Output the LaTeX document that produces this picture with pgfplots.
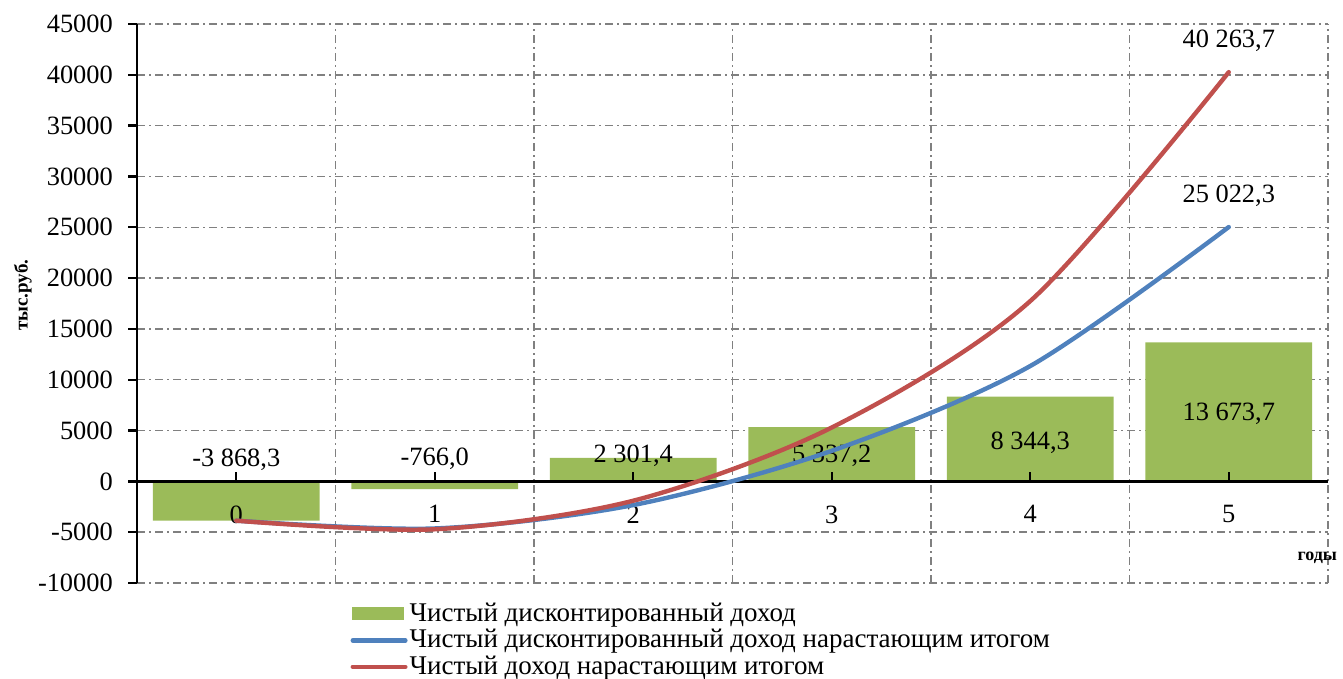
\documentclass[border=0pt]{standalone}
\usepackage{fontspec}
\setmainfont{Liberation Serif}
\usepackage{pgfplots}
\pgfplotsset{compat=1.18}
\definecolor{barg}{HTML}{9BBB59}
\definecolor{lblue}{HTML}{4F81BD}
\definecolor{lred}{HTML}{C0504D}
\pgfplotsset{
  layers/mylayers/.define layer set={
    axis background,axis grid,main,axis ticks,axis lines,axis tick labels,
    axis descriptions,axis foreground
  }{
    grid style={/pgfplots/on layer=axis grid},
    tick style={/pgfplots/on layer=axis ticks},
    axis line style={/pgfplots/on layer=axis lines},
    label style={/pgfplots/on layer=axis descriptions},
    legend style={/pgfplots/on layer=axis descriptions},
    title style={/pgfplots/on layer=axis descriptions},
    colorbar style={/pgfplots/on layer=axis descriptions},
    ticklabel style={/pgfplots/on layer=axis tick labels},
    axis background@ style={/pgfplots/on layer=axis background},
    3d box foreground style={/pgfplots/on layer=axis foreground},
  },
}
\begin{document}
\fontsize{13.2}{15}\selectfont
\begin{tikzpicture}
\begin{axis}[
  set layers=mylayers,
  clip=false,
  scale only axis, width=595.5pt, height=279.5pt,
  xmin=-0.5, xmax=5.5, ymin=-10000, ymax=45000,
  axis y line=left, axis x line=middle,
  axis line style={-, line width=1.4pt, black},
  hide obscured x ticks=false, hide obscured y ticks=false,
  xtick={0,...,5}, ytick={-10000,-5000,...,45000},
  minor xtick={0.5,1.5,...,5.5},
  minor tick length=0pt,
  xminorgrids=true, ymajorgrids=true,
  major grid style={gray, line width=0.7pt, dash pattern=on 4pt off 2pt on 1pt off 2pt},
  minor grid style={gray, line width=0.7pt, dash pattern=on 4pt off 2pt on 1pt off 2pt},
  major tick length=4.5pt,
  tick style={black, line width=1.2pt},
  ytick align=outside, xtick align=inside,
  scaled y ticks=false,
  /pgf/number format/.cd, 1000 sep={}, assume math mode=true, /pgfplots/.cd,
  ticklabel style={font=\fontsize{13.2}{15}\selectfont},
  xticklabel style={yshift=-7.5pt},
  yticklabel style={xshift=-3pt},
  legend style={at={(rel axis cs:0.179,-0.031)}, anchor=north west, draw=none, fill=none,
    inner sep=0pt, row sep=0pt, font=\fontsize{13.5}{15}\selectfont,
    nodes={inner sep=1pt}},
  legend cell align=left,
]
\addplot[ybar, bar width=0.84, fill=barg, draw=none,
  legend image code/.code={\fill[barg] (0.5pt,-3.25pt) rectangle (26.5pt,3.25pt);}]
  coordinates {(0,-3868.3) (1,-766.0) (2,2301.4) (3,5337.2) (4,8344.3) (5,13673.7)};
\addlegendentry{Чистый дисконтированный доход}
\addplot[on layer=axis foreground, lblue, line width=2.2pt, smooth, line cap=round,
  legend image code/.code={\draw[lblue, line width=2.2pt, line cap=round] (1.1pt,0pt) -- (27.4pt,0pt);}]
  coordinates {(0,-3868.3) (1,-4634.3) (2,-2332.9) (3,3004.3) (4,11348.6) (5,25022.3)};
\addlegendentry{Чистый дисконтированный доход нарастающим итогом}
\addplot[on layer=axis foreground, lred, line width=2.2pt, smooth, line cap=round,
  legend image code/.code={\draw[lred, line width=2.2pt, line cap=round] (1.1pt,0pt) -- (27.4pt,0pt);}]
  coordinates {(0,-3868.3) (1,-4714.7) (2,-1904.6) (3,5296.5) (4,17737.0) (5,40263.7)};
\addlegendentry{Чистый доход нарастающим итогом}
\addplot[on layer=axis foreground, draw=none, mark=none, forget plot, nodes near coords,
  point meta=explicit symbolic, nodes near coords align={center},
  every node near coord/.append style={font=\fontsize{13.2}{15}\selectfont, inner sep=0pt}]
  coordinates {(0,2165)[-3 868,3] (1,2263)[-766,0] (2,2558)[2 301,4] (3,2558)[5 337,2]
    (4,3837)[8 344,3] (5,6690)[13 673,7] (5,43390)[40 263,7] (5,28140)[25 022,3]};
\node[rotate=90, font=\bfseries\fontsize{9.5}{10}\selectfont] at ([xshift=-57pt]rel axis cs:0,0.515) {тыс.руб.};
\node[font=\bfseries\fontsize{9}{10}\selectfont] at (rel axis cs:0.991,0.045) {годы};
\coordinate (bbSW) at ([xshift=-68.5pt,yshift=-48pt]rel axis cs:0,0);
\coordinate (bbNE) at ([xshift=7.5pt,yshift=12pt]rel axis cs:1,1);
\end{axis}
\pgfresetboundingbox
\useasboundingbox (bbSW) rectangle (bbNE);
\end{tikzpicture}
\end{document}
